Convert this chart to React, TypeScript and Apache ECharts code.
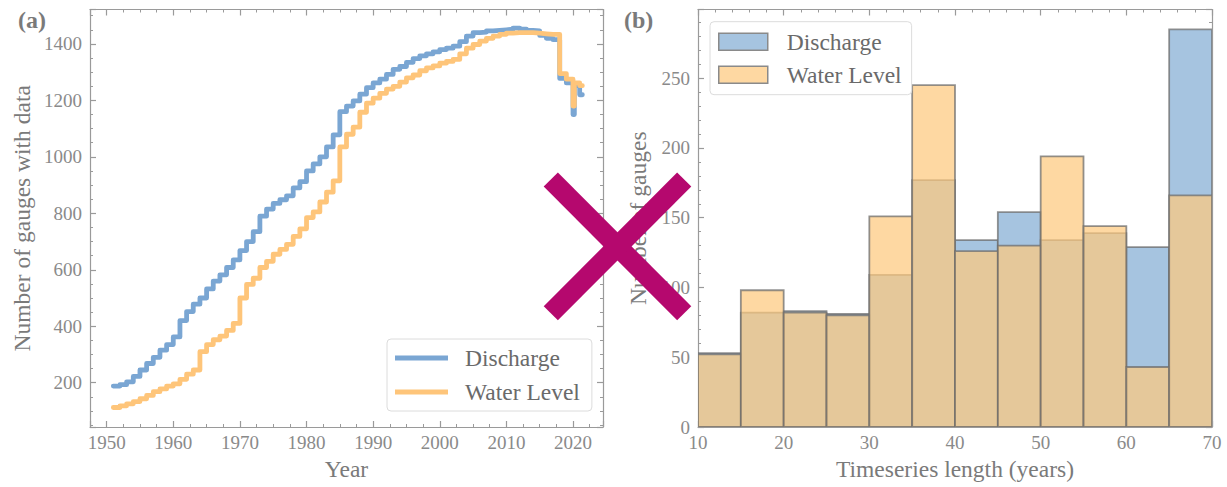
import React, { useEffect, useRef } from "react";
import * as echarts from "echarts";

// ---------- Panel (a): number of gauges with data ----------
const yearsQ = [
  1951, 1952, 1953, 1954, 1955, 1956, 1957, 1958, 1959, 1960,
  1961, 1962, 1963, 1964, 1965, 1966, 1967, 1968, 1969, 1970,
  1971, 1972, 1973, 1974, 1975, 1976, 1977, 1978, 1979, 1980,
  1981, 1982, 1983, 1984, 1985, 1986, 1987, 1988, 1989, 1990,
  1991, 1992, 1993, 1994, 1995, 1996, 1997, 1998, 1999, 2000,
  2001, 2002, 2003, 2004, 2005, 2006, 2007, 2008, 2009, 2010,
  2011, 2012, 2013, 2014, 2015, 2016, 2017, 2018, 2019,
  2020, 2020.2, 2021, 2021.4,
];
const discharge = [
  188, 193, 203, 222, 245, 268, 290, 315, 335, 362,
  420, 452, 478, 500, 532, 560, 582, 608, 635, 668,
  700, 735, 790, 815, 835, 848, 862, 890, 912, 950,
  975, 1000, 1035, 1078, 1160, 1180, 1198, 1222, 1245, 1262,
  1275, 1292, 1310, 1320, 1335, 1348, 1358, 1365, 1372, 1380,
  1385, 1392, 1408, 1428, 1440, 1442, 1446, 1448, 1450, 1452,
  1456, 1452, 1448, 1446, 1430, 1420, 1415, 1278, 1262,
  1150, 1252, 1220, 1220,
];
const waterLevel = [
  112, 118, 125, 133, 143, 155, 168, 178, 188, 196,
  212, 230, 245, 310, 335, 352, 365, 385, 410, 500,
  548, 570, 608, 630, 655, 672, 690, 718, 745, 785,
  805, 840, 875, 915, 1035, 1080, 1105, 1158, 1190, 1208,
  1225, 1240, 1250, 1265, 1280, 1290, 1305, 1315, 1322, 1332,
  1338, 1345, 1365, 1385, 1398, 1410, 1420, 1428, 1434, 1438,
  1440, 1440, 1440, 1438, 1436, 1434, 1434, 1295, 1275,
  1180, 1262, 1252, 1252,
];

// ---------- Panel (b): histogram of timeseries length ----------
const binEdges = [10, 15, 20, 25, 30, 35, 40, 45, 50, 55, 60, 65, 70];
const histDischarge = [53, 82, 83, 81, 109, 177, 134, 154, 134, 139, 129, 285];
const histWaterLevel = [52, 98, 82, 80, 151, 245, 126, 130, 194, 144, 43, 166];

const seriesNames = ["Discharge", "Water Level"];

const FONT = "Liberation Serif";
const AXIS_COLOR = "#9a9a9a";
const LABEL_COLOR = "#8a8a8a";
const NAME_COLOR = "#7a7a7a";
const LINE_BLUE = "#7aa6d3";
const LINE_ORANGE = "#fec57a";
const BAR_BLUE = "#a6c4e0";
const BAR_ORANGE = "rgba(254,201,126,0.72)";
const EDGE = "rgba(110,110,110,0.75)";

function mkAxis(opts: any) {
  const { gridIndex, position, min, max, splitNumber, interval, minorSplit, labels, name, nameGap, showMin, showMax } = opts;
  const isY = position === "left" || position === "right";
  const ax: any = {
    type: "value",
    gridIndex,
    position,
    min,
    max,
    scale: true,
    axisLine: { show: true, onZero: false, lineStyle: { color: AXIS_COLOR, width: 1.2 } },
    axisTick: { show: true, inside: true, length: 6, lineStyle: { color: AXIS_COLOR, width: 1.2 } },
    minorTick: { show: true, splitNumber: minorSplit, length: 3, lineStyle: { color: AXIS_COLOR, width: 1 } },
    splitLine: { show: false },
    minorSplitLine: { show: false },
    axisLabel: labels
      ? {
          show: true,
          color: LABEL_COLOR,
          fontFamily: FONT,
          fontSize: 19,
          margin: isY ? 8 : 6,
          showMinLabel: showMin,
          showMaxLabel: showMax,
          formatter: (v: number) => String(Math.round(v)),
        }
      : { show: false },
  };
  if (splitNumber !== undefined) ax.splitNumber = splitNumber;
  if (interval !== undefined) ax.interval = interval;
  if (name) {
    ax.name = name;
    ax.nameLocation = "middle";
    ax.nameGap = nameGap;
    ax.nameTextStyle = { color: NAME_COLOR, fontFamily: FONT, fontSize: 23.5 };
    if (isY) ax.nameRotate = 90;
  }
  return ax;
}

function makeHistRender(fill: string) {
  return (params: any, api: any) => {
    const lo = api.value(0);
    const hi = api.value(1);
    const v = api.value(2);
    const p0 = api.coord([lo, v]);
    const p1 = api.coord([hi, 0]);
    return {
      type: "rect",
      shape: { x: p0[0], y: p0[1], width: p1[0] - p0[0], height: p1[1] - p0[1] },
      style: { fill, stroke: EDGE, lineWidth: 1.8 },
    };
  };
}

export default function App() {
  const ref = useRef<HTMLDivElement>(null);

  useEffect(() => {
    document.body.style.margin = "0";
    if (!ref.current) return;
    const chart = echarts.init(ref.current, null, { renderer: "svg" });

    const qData = yearsQ.map((y, i) => [y, discharge[i]]);
    const wData = yearsQ.map((y, i) => [y, waterLevel[i]]);
    const hQ = histDischarge.map((v, i) => [binEdges[i], binEdges[i + 1], v]);
    const hW = histWaterLevel.map((v, i) => [binEdges[i], binEdges[i + 1], v]);

    const legendText = { color: "#6a6a6a", fontFamily: FONT, fontSize: 23.5, padding: [0, 0, 0, 12] };

    const option: any = {
      animation: false,
      backgroundColor: "#ffffff",
      textStyle: { fontFamily: FONT },
      grid: [
        { left: 90, top: 9.5, width: 513, height: 417.5, containLabel: false, outerBoundsMode: "none" },
        { left: 698, top: 9.5, width: 514, height: 417.5, containLabel: false, outerBoundsMode: "none" },
      ],
      xAxis: [
        mkAxis({ gridIndex: 0, position: "bottom", min: 1947.5, max: 2024.5, splitNumber: 8, minorSplit: 4, labels: true, name: "Year", nameGap: 29, showMin: false, showMax: false }),
        mkAxis({ gridIndex: 0, position: "top", min: 1947.5, max: 2024.5, splitNumber: 8, minorSplit: 4, labels: false }),
        mkAxis({ gridIndex: 1, position: "bottom", min: 10, max: 70, interval: 10, minorSplit: 5, labels: true, name: "Timeseries length (years)", nameGap: 29, showMin: true, showMax: true }),
        mkAxis({ gridIndex: 1, position: "top", min: 10, max: 70, interval: 10, minorSplit: 5, labels: false }),
      ],
      yAxis: [
        mkAxis({ gridIndex: 0, position: "left", min: 43, max: 1522, splitNumber: 7, minorSplit: 4, labels: true, name: "Number of gauges with data", nameGap: 56, showMin: false, showMax: false }),
        mkAxis({ gridIndex: 0, position: "right", min: 43, max: 1522, splitNumber: 7, minorSplit: 4, labels: false }),
        mkAxis({ gridIndex: 1, position: "left", min: 0, max: 299.25, splitNumber: 6, minorSplit: 5, labels: true, name: "Number of gauges", nameGap: 48, showMin: true, showMax: false }),
        mkAxis({ gridIndex: 1, position: "right", min: 0, max: 299.25, splitNumber: 6, minorSplit: 5, labels: false }),
      ],
      legend: [
        {
          left: 387,
          top: 339,
          orient: "vertical",
          selectedMode: false,
          itemWidth: 53,
          itemHeight: 5,
          itemGap: 10,
          padding: [7, 12, 7, 8],
          backgroundColor: "rgba(255,255,255,0.85)",
          borderColor: "#dcdcdc",
          borderWidth: 1,
          borderRadius: 4,
          textStyle: legendText,
          data: [
            { name: seriesNames[0], icon: "rect", itemStyle: { color: LINE_BLUE, borderWidth: 0 } },
            { name: seriesNames[1], icon: "rect", itemStyle: { color: LINE_ORANGE, borderWidth: 0 } },
          ],
        },
        {
          left: 710,
          top: 21.7,
          orient: "vertical",
          selectedMode: false,
          itemWidth: 49,
          itemHeight: 17,
          itemGap: 9,
          padding: [8, 10, 8, 8],
          backgroundColor: "rgba(255,255,255,0.85)",
          borderColor: "#dcdcdc",
          borderWidth: 1,
          borderRadius: 4,
          textStyle: { ...legendText, padding: [0, 0, 0, 14] },
          data: [
            { name: seriesNames[0], icon: "rect", itemStyle: { color: BAR_BLUE, borderColor: "#8a8a8a", borderWidth: 1.5 } },
            { name: seriesNames[1], icon: "rect", itemStyle: { color: "#fed8a2", borderColor: "#8a8a8a", borderWidth: 1.5 } },
          ],
        },
      ],
      series: [
        {
          name: seriesNames[0],
          type: "line",
          xAxisIndex: 0,
          yAxisIndex: 0,
          data: qData,
          step: "end",
          showSymbol: false,
          symbol: "none",
          lineStyle: { color: LINE_BLUE, width: 4.8, join: "round", cap: "round" },
          itemStyle: { color: LINE_BLUE },
          z: 3,
        },
        {
          name: seriesNames[1],
          type: "line",
          xAxisIndex: 0,
          yAxisIndex: 0,
          data: wData,
          step: "end",
          showSymbol: false,
          symbol: "none",
          lineStyle: { color: LINE_ORANGE, width: 4.8, join: "round", cap: "round" },
          itemStyle: { color: LINE_ORANGE },
          z: 4,
        },
        {
          name: seriesNames[0],
          type: "custom",
          xAxisIndex: 2,
          yAxisIndex: 2,
          data: hQ,
          encode: { x: [0, 1], y: 2 },
          renderItem: makeHistRender(BAR_BLUE),
          itemStyle: { color: BAR_BLUE },
          clip: true,
          z: 2,
        },
        {
          name: seriesNames[1],
          type: "custom",
          xAxisIndex: 2,
          yAxisIndex: 2,
          data: hW,
          encode: { x: [0, 1], y: 2 },
          renderItem: makeHistRender(BAR_ORANGE),
          itemStyle: { color: "#fed8a2" },
          clip: true,
          z: 3,
        },
      ],
      graphic: [
        { type: "text", left: 18, top: 8, style: { text: "(a)", fill: "#7a7a7a", font: `bold 24px "${FONT}"` } },
        { type: "text", left: 624, top: 8, style: { text: "(b)", fill: "#7a7a7a", font: `bold 24px "${FONT}"` } },
        {
          type: "line",
          z: 100,
          shape: { x1: 550.8, y1: 179.5, x2: 684.2, y2: 313.3 },
          style: { stroke: "#b5086e", lineWidth: 20, lineCap: "butt" },
        },
        {
          type: "line",
          z: 100,
          shape: { x1: 684.2, y1: 179.5, x2: 550.8, y2: 313.3 },
          style: { stroke: "#b5086e", lineWidth: 20, lineCap: "butt" },
        },
      ],
    };

    chart.setOption(option);
    return () => chart.dispose();
  }, []);

  return <div ref={ref} style={{ width: 1227, height: 487 }} />;
}
